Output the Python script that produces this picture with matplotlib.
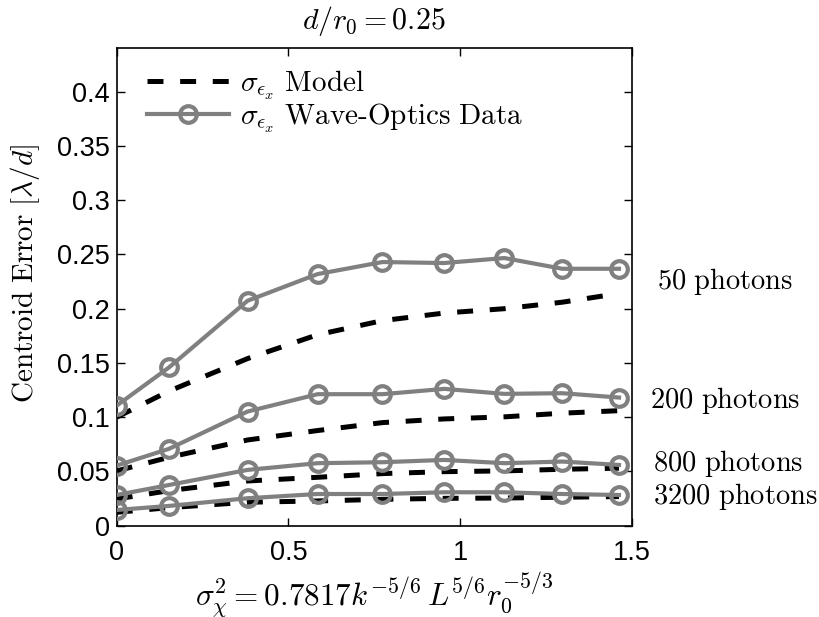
import matplotlib
matplotlib.use("Agg")
import matplotlib.pyplot as plt

# ---- data ----
x_vals = [0.0, 0.152, 0.381, 0.585, 0.774, 0.954, 1.129, 1.298, 1.463]

data_50 = [0.1107, 0.1458, 0.2073, 0.2319, 0.2430, 0.2421, 0.2467, 0.2368, 0.2368]
data_200 = [0.0554, 0.0708, 0.1052, 0.1212, 0.1212, 0.1261, 0.1215, 0.1221, 0.1181]
data_800 = [0.0283, 0.0375, 0.0514, 0.0576, 0.0585, 0.0606, 0.0576, 0.0591, 0.0560]
data_3200 = [0.0145, 0.0182, 0.0253, 0.0292, 0.0292, 0.0308, 0.0308, 0.0292, 0.0283]

model_50 = [0.100, 0.124, 0.154, 0.176, 0.189, 0.196, 0.200, 0.206, 0.214]
model_200 = [0.0505, 0.063, 0.079, 0.0877, 0.095, 0.0984, 0.1003, 0.1037, 0.106]
model_800 = [0.0246, 0.0323, 0.0412, 0.0446, 0.048, 0.0498, 0.0505, 0.052, 0.053]
model_3200 = [0.0123, 0.0166, 0.0216, 0.0228, 0.0243, 0.0252, 0.0255, 0.0262, 0.0268]

photon_labels = ["50 photons", "200 photons", "800 photons", "3200 photons"]
label_x = [1.573, 1.553, 1.562, 1.562]
label_y = [0.2255, 0.1150, 0.0575, 0.0265]

yticks = [0, 0.05, 0.1, 0.15, 0.2, 0.25, 0.3, 0.35, 0.4]
ytick_labels = ["0", "0.05", "0.1", "0.15", "0.2", "0.25", "0.3", "0.35", "0.4"]
xticks = [0, 0.5, 1, 1.5]
xtick_labels = ["0", "0.5", "1", "1.5"]

# ---- style ----
plt.rcParams['mathtext.fontset'] = 'cm'
plt.rcParams['lines.scale_dashes'] = False

fig = plt.figure(figsize=(8.19, 6.17), dpi=100)
ax = fig.add_axes([0.1425, 0.148, 0.7713 - 0.1425, 0.9217 - 0.148])

gray = '#808080'
dash = (0, (11.5, 12))

models = [model_50, model_200, model_800, model_3200]
datas = [data_50, data_200, data_800, data_3200]

for i, m in enumerate(models):
    ax.plot(x_vals, m, color='black', lw=3.6, linestyle=dash,
            label=r'$\sigma_{\epsilon_x}\ \mathrm{Model}$' if i == 0 else None, zorder=2)
for i, d in enumerate(datas):
    ax.plot(x_vals, d, color=gray, lw=3.0, marker='o', markersize=12,
            markerfacecolor='none', markeredgecolor=gray, markeredgewidth=3.0,
            label=r'$\sigma_{\epsilon_x}\ \mathrm{Wave\text{-}Optics\ Data}$' if i == 0 else None,
            zorder=3)

ax.set_xlim(0, 1.5)
ax.set_ylim(0, 0.44)
ax.set_xticks(xticks)
ax.set_xticklabels(xtick_labels)
ax.set_yticks(yticks)
ax.set_yticklabels(ytick_labels)
for lab in ax.get_xticklabels() + ax.get_yticklabels():
    lab.set_fontfamily('Liberation Sans')
    lab.set_fontsize(19.5)
ax.tick_params(direction='in', length=6, width=1, top=True, right=True)
ax.tick_params(axis='x', pad=10)
ax.tick_params(axis='y', pad=5)
for s in ax.spines.values():
    s.set_linewidth(1.2)

ax.set_ylabel(r'$\mathrm{Centroid\ Error}\ [\lambda/d]$', fontsize=21)
ax.yaxis.set_label_coords(-0.145, 0.528)
ax.set_xlabel(r'$\sigma_\chi^2 = 0.7817k^{-5/6}\,L^{5/6}r_0^{-5/3}$', fontsize=22.5, labelpad=3)
ax.set_title(r'$d/r_0 = 0.25$', fontsize=21.5, pad=14)

for lbl, xv, yv in zip(photon_labels, label_x, label_y):
    ax.text(xv, yv, r'$\mathrm{' + lbl.replace(' ', r'\ ') + '}$', fontsize=20.5,
            va='center', ha='left', clip_on=False)

leg = ax.legend(loc='upper left', bbox_to_anchor=(0.036, 0.983), frameon=False,
                fontsize=21, handlelength=2.8, borderaxespad=0, borderpad=0.4,
                handletextpad=0.4, labelspacing=0.0)

fig.savefig('out.png', dpi=100)
